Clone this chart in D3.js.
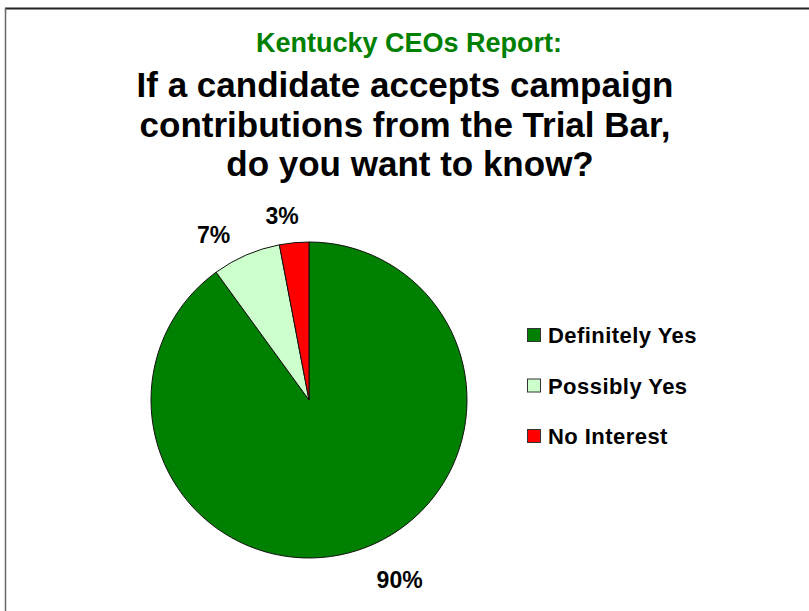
<!DOCTYPE html>
<html>
<head>
<meta charset="utf-8">
<script src="https://cdn.jsdelivr.net/npm/d3@7"></script>
<style>
  html, body { margin: 0; padding: 0; background: #fff; }
  svg { display: block; font-family: "Liberation Sans", Arial, sans-serif; }
</style>
</head>
<body>
<svg id="chart" width="809" height="611"></svg>
<script>
// Survey answers, shares in percent
const categories = ["Definitely Yes", "Possibly Yes", "No Interest"];
const values = [90, 7, 3];
const sliceLabels = ["90%", "7%", "3%"];
const colors = ["#008000", "#ccffcc", "#ff0000"];
const subtitle = "Kentucky CEOs Report:";
const titleLines = ["If a candidate accepts campaign", "contributions from the Trial Bar,", "do you want to know?"];

const svg = d3.select("#chart");

// frame edges (top and left)
svg.append("line").attr("x1", 5).attr("x2", 809).attr("y1", 8.5).attr("y2", 8.5)
  .attr("stroke", "#222").attr("stroke-width", 2);
svg.append("line").attr("x1", 5.5).attr("x2", 5.5).attr("y1", 8).attr("y2", 611)
  .attr("stroke", "#666").attr("stroke-width", 1.5);

// headings
svg.append("text").attr("x", 409).attr("y", 52).attr("text-anchor", "middle")
  .attr("font-size", 27).attr("font-weight", "bold").attr("fill", "#008000")
  .text(subtitle);
svg.selectAll("text.title").data(titleLines).join("text")
  .attr("class", "title")
  .attr("x", (d, i) => i === 2 ? 410 : 405).attr("y", (d, i) => 97 + i * 39.5)
  .attr("text-anchor", "middle").attr("font-size", 35).attr("font-weight", "bold")
  .attr("fill", "#000").text(d => d);

// pie
const cx = 309, cy = 400, r = 158;
const data = categories.map((c, i) => ({ name: c, value: values[i], label: sliceLabels[i], color: colors[i] }));
const pie = d3.pie().value(d => d.value).sort(null);
const arcs = pie(data);
const arc = d3.arc().innerRadius(0).outerRadius(r);

const g = svg.append("g").attr("transform", `translate(${cx},${cy})`);
g.selectAll("path").data(arcs).join("path")
  .attr("d", arc)
  .attr("fill", d => d.data.color)
  .attr("stroke", "#111").attr("stroke-width", 1);

// percentage labels placed outside the pie
const labelArc = d3.arc().innerRadius(r + 22).outerRadius(r + 22);
const labelOffsets = [[35, 11], [-24, 2], [-10, -3]];
g.selectAll("text.pct").data(arcs).join("text")
  .attr("class", "pct")
  .attr("x", (d, i) => labelArc.centroid(d)[0] + labelOffsets[i][0])
  .attr("y", (d, i) => labelArc.centroid(d)[1] + labelOffsets[i][1])
  .attr("text-anchor", "middle").attr("dominant-baseline", "middle")
  .attr("font-size", 23).attr("font-weight", "bold").attr("fill", "#000")
  .text(d => d.data.label);

// legend
const legend = svg.append("g").attr("transform", "translate(527,328)");
const rows = legend.selectAll("g").data(data).join("g")
  .attr("transform", (d, i) => `translate(0,${i * 50.5})`);
rows.append("rect").attr("x", 0.5).attr("y", 0.5).attr("width", 13).attr("height", 13)
  .attr("fill", d => d.color).attr("stroke", "#333").attr("stroke-width", 1);
rows.append("text").attr("x", 21).attr("y", 15)
  .attr("font-size", 22).attr("font-weight", "bold").attr("letter-spacing", 0.45)
  .attr("fill", "#000")
  .text(d => d.name);
</script>
</body>
</html>
